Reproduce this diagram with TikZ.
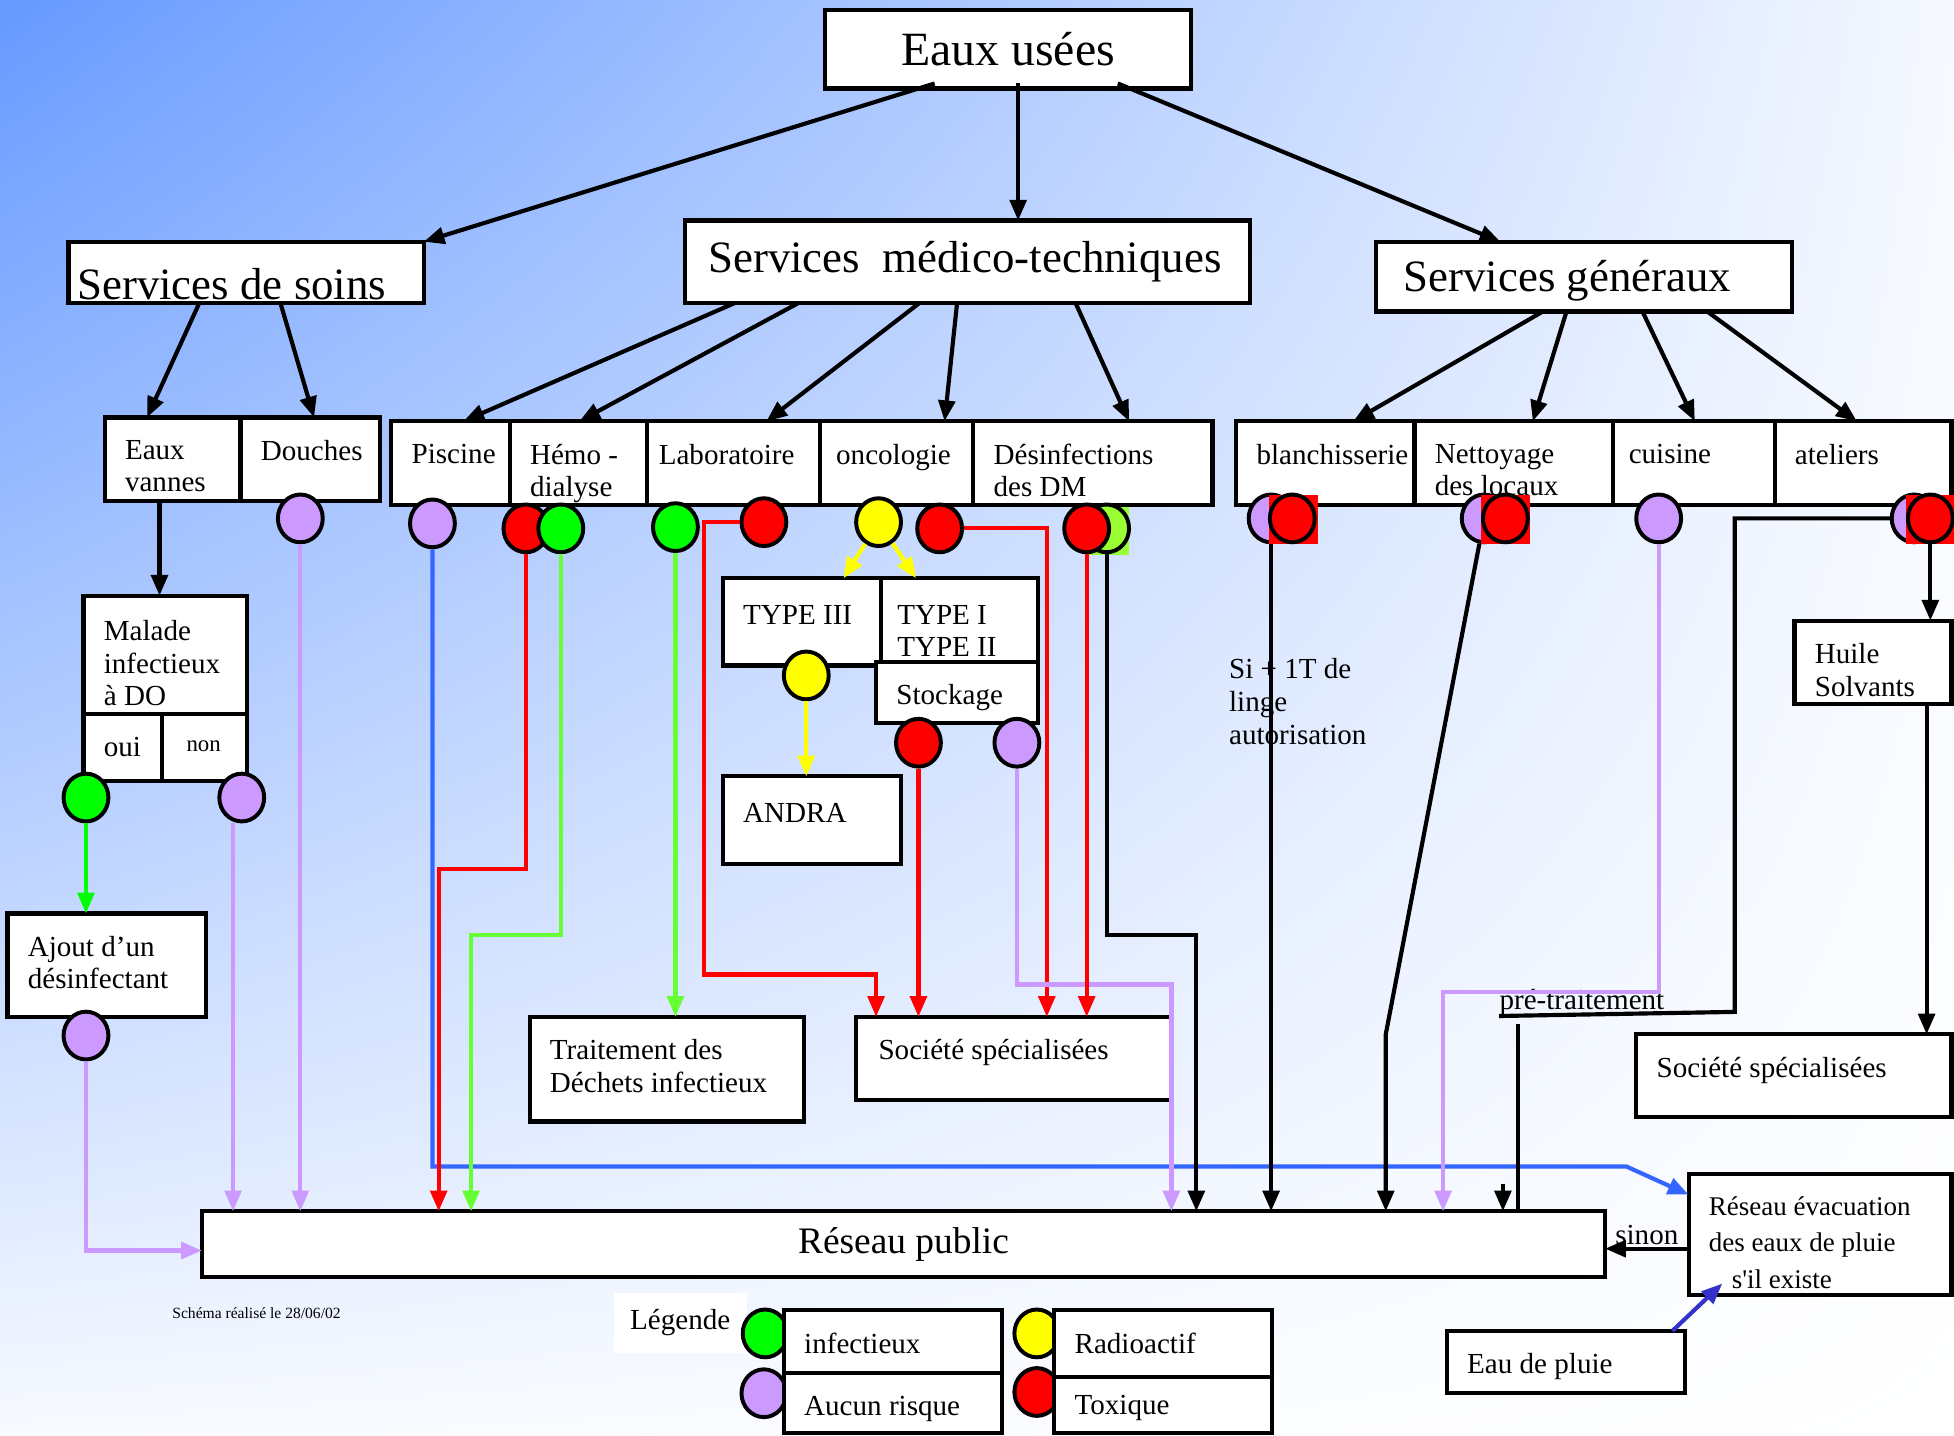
\documentclass[tikz,border=0pt]{standalone}
\usepackage{fontspec}
\setmainfont{Liberation Serif}
\usetikzlibrary{arrows.meta,shapes.geometric,shadings,positioning}

\definecolor{fondbleu}{HTML}{6699FF}
\definecolor{mauve}{HTML}{CC99FF}
\definecolor{rouge}{HTML}{FF0000}
\definecolor{vertvif}{HTML}{00FF00}
\definecolor{vertclair}{HTML}{66FF33}
\definecolor{lime}{HTML}{99FF33}
\definecolor{jaune}{HTML}{FFFF00}
\definecolor{bleuligne}{HTML}{3366FF}
\definecolor{bleufonce}{HTML}{3333CC}

\begin{document}
\begin{tikzpicture}[x=0.6pt, y=-0.6pt,
boite/.style 2 args = {draw, line width=2pt, fill=white, anchor=north west,
              minimum width=#1*0.6pt, minimum height=#2*0.6pt,
              inner sep=0pt, outer sep=0pt},
txt/.style = {anchor=north west, align=left, inner xsep=9.6pt, inner ysep=10.8pt,
              font=\fontsize{14}{15.6}\selectfont},
titre/.style = {font=\fontsize{21.6}{24}\selectfont},
titrelab/.style = {titre, anchor=west, inner sep=4pt},
pastille/.style = {ellipse, draw, line width=1.9pt, inner sep=0pt,
              minimum width=21.6pt, minimum height=23pt},
carre/.style = {fill=rouge, inner sep=0pt, minimum width=23.4pt, minimum height=23.4pt},
lien/.style = {line width=2pt},
fleche/.style = {lien, -{Triangle[length=10pt, width=8pt]}},
texte/.style = {font=\fontsize{14}{15.9}\selectfont, align=left, inner sep=0pt}
                ]
\useasboundingbox (0,0) rectangle (1568,1152);
\shade[upper left=fondbleu, upper right=fondbleu!6, lower left=fondbleu!5,
       lower right=white] (0,0) rectangle (1568,1152);

%% arbre
\node[boite={294}{63}, font=\fontsize{23}{25}\selectfont] (eaux) at (662,8) {Eaux usées};
\node[boite={285}{49}, label={[titrelab, yshift=-5.5pt]west:Services de soins}] (soins) at (55,194) {};
\node[boite={453}{66}, label={[titrelab, xshift=6.8pt]west:Services\ \ médico-techniques}] (medico) at (550,177) {};
\node[boite={334}{56}, label={[titrelab, xshift=9.2pt, yshift=-2pt]west:Services généraux}] (generaux) at (1104,194) {};

\node[boite={109}{67}, label={[txt]north west:{Eaux\\vannes}}] (vannes) at (84,335) {};
\node[boite={112}{67}, label={[txt]north west:Douches}] (douches) at (193,335) {};
\node[boite={95}{67}, label={[txt]north west:Piscine}] (piscine) at (314,338) {};
\node[boite={110}{67}, label={[txt]north west:{Hémo -\\dialyse}}] (hemo) at (409,338) {};
\node[boite={139}{67}, label={[txt, xshift=-4pt]north west:Laboratoire}] (labo) at (519,338) {};
\node[boite={123}{67}, label={[txt, xshift=-2pt]north west:oncologie}] (onco) at (658,338) {};
\node[boite={192}{67}, label={[txt]north west:{Désinfections\\des DM}}] (desinf) at (781,338) {};
\node[boite={143}{67}, label={[txt]north west:blanchisserie}] (blanch) at (992,338) {};
\node[boite={159}{67}, label={[txt]north west:{Nettoyage\\des locaux}}] (nett) at (1135,338) {};
\node[boite={130}{67}, label={[txt, xshift=-2pt]north west:cuisine}] (cuisine) at (1294,338) {};
\node[boite={142}{67}, label={[txt]north west:ateliers}] (ateliers) at (1424,338) {};

%% boites du bas
\node[boite={131}{95}, label={[txt, yshift=-1pt]north west:{Malade\\infectieux\\à DO}}] (malade) at (67,478) {};
\node[boite={63}{54}, label={[txt]north west:oui}] (oui) at (67,573) {};
\node[boite={68}{54}, label={[txt, font=\fontsize{11}{13}\selectfont, xshift=2pt, yshift=-2pt]north west:non}] (non) at (130,573) {};
\node[boite={159}{83}, label={[txt]north west:{Ajout d’un\\désinfectant}}] (ajout) at (6,733) {};
\node[boite={126}{90}, label={[txt, xshift=-2pt, yshift=-2pt]north west:{TYPE I\\TYPE II}}] (type12) at (707,464) {};
\node[boite={127}{70}, label={[txt, yshift=-2pt]north west:TYPE III}] (type3) at (580,464) {};
\node[boite={130}{49}, label={[txt]north west:Stockage}] (stockage) at (703,531) {};
\node[boite={143}{70}, label={[txt, yshift=-2pt]north west:ANDRA}] (andra) at (580,623) {};
\node[boite={220}{84}, label={[txt]north west:{Traitement des\\Déchets infectieux}}] (traitement) at (425,816) {};
\node[boite={253}{67}, label={[txt, xshift=1pt]north west:Société spécialisées}] (societe) at (687,816) {};
\node[boite={126}{67}, label={[txt]north west:{Huile\\Solvants}}] (huile) at (1440,498) {};
\node[boite={253}{66}, label={[txt]north west:Société spécialisées}] (societe2) at (1313,830) {};
\node[boite={1126}{53}, font=\fontsize{18}{20}\selectfont] (reseau) at (162,972) {Réseau public};
\node[boite={211}{97}, label={[txt, font=\fontsize{13}{17.5}\selectfont]north west:{Réseau évacuation\\des eaux de pluie\\\hspace*{11pt}s\textquotesingle il existe}}] (evac) at (1355,942) {};
\node[boite={191}{50}, label={[txt]north west:Eau de pluie}] (pluie) at (1161,1068) {};

%% pastilles
\node[pastille, fill=mauve] (c-douches) at (241,416) {};
\node[pastille, fill=mauve] (c-piscine) at (347,420) {};
\node[pastille, fill=rouge] (c-hemoR) at (422,424) {};
\node[pastille, fill=vertvif] (c-hemoV) at (450,424) {};
\node[pastille, fill=vertvif] (c-laboV) at (542,423) {};
\node[pastille, fill=rouge] (c-laboR) at (613,419) {};
\node[pastille, fill=jaune] (c-oncoJ) at (705,419) {};
\node[pastille, fill=rouge] (c-oncoR) at (754,424) {};
\node[fill=lime, inner sep=0pt, minimum width=20.4pt, minimum height=23.4pt] (sq-desinf) at (889,426) {};
\node[pastille, fill=lime] (c-desinfV) at (888,424) {};
\node[pastille, fill=rouge] (c-desinfR) at (872,424) {};
\node[pastille, fill=mauve] (c-blanchV) at (1020,416) {};
\node[carre] (sq-blanch) at (1038,417) {};
\node[pastille, fill=rouge] (c-blanchR) at (1037,416) {};
\node[pastille, fill=mauve] (c-nettV) at (1191,416) {};
\node[carre] (sq-nett) at (1208,417) {};
\node[pastille, fill=rouge] (c-nettR) at (1208,416) {};
\node[pastille, fill=mauve] (c-cuisine) at (1331,416) {};
\node[pastille, fill=mauve] (c-atelV) at (1536,416) {};
\node[carre] (sq-atel) at (1549,417) {};
\node[pastille, fill=rouge] (c-atelR) at (1549,416) {};
\node[pastille, fill=vertvif] (c-oui) at (69,640) {};
\node[pastille, fill=mauve] (c-non) at (194,640) {};
\node[pastille, fill=mauve] (c-ajout) at (69,831) {};
\node[pastille, fill=jaune] (c-type3) at (647,542) {};
\node[pastille, fill=rouge] (c-stockR) at (737,596) {};
\node[pastille, fill=mauve] (c-stockV) at (816,596) {};

%% textes libres
\node[texte, anchor=north west] (linge) at (986,528) {Si + 1T de\\linge\\autorisation};
\node[texte, anchor=base west] (pretrait) at (1203,810) {pré-traitement};
\node[anchor=base west, inner sep=0pt, font=\fontsize{7.5}{9}\selectfont] (date) at (138,1058) {Schéma réalisé le 28/06/02};

%% fleches de l'arbre
\draw[fleche] ([shift={(-59,-4)}]eaux.south) -- (soins.north east);
\draw[fleche] ([shift={(8,-4)}]eaux.south) -- (medico.north -| 817,0);
\draw[fleche] ([shift={(88,-4)}]eaux.south) -- (generaux.north -| 1204,0);
\draw[fleche] (soins.south -| 160,0) -- (vannes.north -| 118,0);
\draw[fleche] (soins.south -| 225,0) -- (douches.north -| 252,0);
\draw[fleche] (medico.south -| 590,0) -- (piscine.north -| 372,0);
\draw[fleche] (medico.south -| 641,0) -- (hemo.north -| 465,0);
\draw[fleche] (medico.south -| 738,0) -- (labo.north -| 615,0);
\draw[fleche] (medico.south -| 768,0) -- (onco.north -| 758,0);
\draw[fleche] (medico.south -| 863,0) -- (desinf.north -| 906,0);
\draw[fleche] (generaux.south -| 1238,0) -- (blanch.north -| 1086,0);
\draw[fleche] (generaux.south -| 1257,0) -- (nett.north -| 1230,0);
\draw[fleche] (generaux.south -| 1318,0) -- (cuisine.north -| 1360,0);
\draw[fleche] (generaux.south -| 1370,0) -- (ateliers.north -| 1490,0);

%% circuits
\draw[fleche] (vannes.south -| 128,0) -- (malade.north -| 128,0);
\draw[fleche, vertvif] (c-oui) -- (c-oui |- ajout.north);
\draw[fleche, mauve] (c-ajout) |- ([yshift=-3pt]reseau.west);
\draw[fleche, mauve] (187,0 |- c-non.south) -- (187,0 |- reseau.north);
\draw[fleche, mauve] (c-douches) -- (c-douches |- reseau.north);
\draw[fleche, bleuligne] (c-piscine) -- (c-piscine |- 0,936) -- (1305,936) -- ([yshift=-10pt]evac.north west);
\draw[fleche, rouge] (c-hemoR) |- (352,697) -- (352,0 |- reseau.north);
\draw[fleche, vertclair] (c-hemoV) |- (378,750) -- (378,0 |- reseau.north);
\draw[fleche, vertclair] (c-laboV) -- (c-laboV |- traitement.north);
\draw[fleche, rouge] (c-laboR) -| (565,782) -| (703,0 |- societe.north);
\draw[fleche, jaune] (c-oncoJ) -- (type3.north -| 677,0);
\draw[fleche, jaune] (c-oncoJ) -- (type12.north -| 735,0);
\draw[fleche, rouge] (c-oncoR) -| (840,0 |- societe.north);
\draw[fleche, jaune] (c-type3) -- (c-type3 |- andra.north);
\draw[fleche, rouge] (c-stockR) -- (c-stockR |- societe.north);
\draw[fleche, mauve] (c-stockV) |- (940,790) -- (940,0 |- reseau.north);
\draw[fleche, rouge] (c-desinfR) -- (c-desinfR |- societe.north);
\draw[fleche] (c-desinfV) |- (960,750) -- (960,0 |- reseau.north);
\draw[fleche] (c-blanchV) -- (c-blanchV |- reseau.north);
\draw[fleche] (c-nettV) -- (1112,830) -- (1112,0 |- reseau.north);
\draw[fleche, mauve] (c-cuisine) |- (1158,796) -- (1158,0 |- reseau.north);
\draw[lien] (c-atelV) -| (1392,812) -- (pretrait.south west);
\coordinate (trait-haut) at (1218,822);
\coordinate (pointe) at (1206,950);
\draw[lien] (trait-haut) -- (trait-haut |- reseau.north);
\draw[fleche] (pointe) -- (pointe |- reseau.north);
\draw[fleche] (c-atelR) -- (c-atelR |- huile.north);
\draw[fleche] (huile.south -| 1546,0) -- (societe2.north -| 1546,0);
\draw[fleche] (evac.west |- 0,1002) -- (reseau.east |- 0,1002)
      node[midway, above=1pt, texte] (sinon) {sinon};
\draw[fleche, bleufonce] (pluie.north -| 1342,0) -- ([shift={(27,88)}]evac.north west);

%% legende
\node[texte, anchor=base west, fill=white, inner xsep=8pt, inner ysep=8pt] (legende) at (492,1067) {Légende};
\node[pastille, fill=vertvif] (l-inf) at (614,1070) {};
\node[pastille, fill=mauve] (l-aucun) at (613,1118) {};
\node[pastille, fill=jaune] (l-radio) at (832,1070) {};
\node[pastille, fill=rouge] (l-tox) at (832,1117) {};
\node[boite={175}{51}, label={[txt]north west:infectieux}] (b-inf) at (629,1051) {};
\node[boite={175}{48}, label={[txt]north west:Aucun risque}] (b-aucun) at (629,1102) {};
\node[boite={175}{54}, label={[txt]north west:Radioactif}] (b-radio) at (846,1051) {};
\node[boite={175}{45}, label={[txt, yshift=2pt]north west:Toxique}] (b-tox) at (846,1105) {};
\end{tikzpicture}
\end{document}
